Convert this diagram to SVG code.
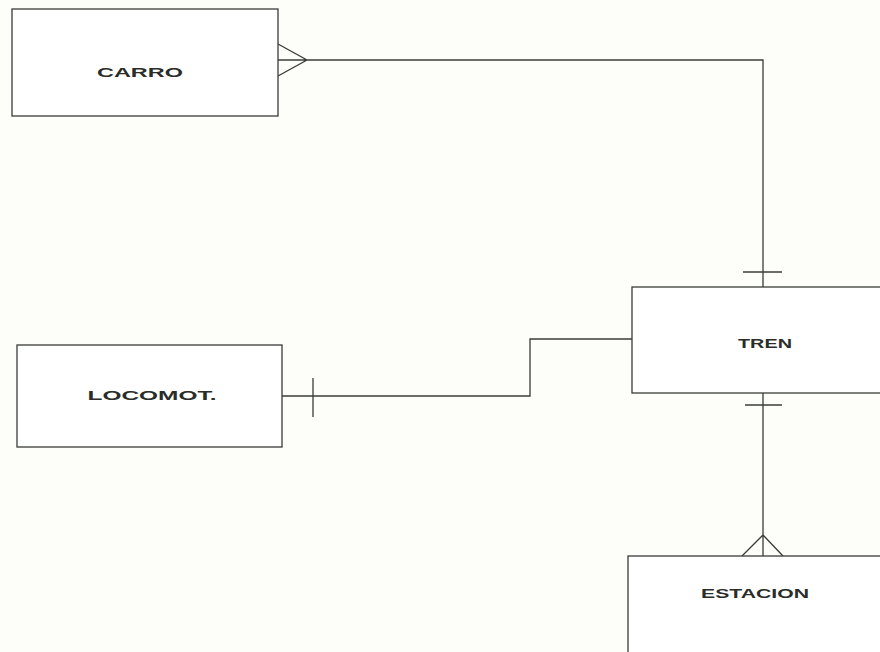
<svg xmlns="http://www.w3.org/2000/svg" width="880" height="652" viewBox="0 0 880 652">
<style>
.box{fill:#fff;stroke:#3a3d38;stroke-width:1.3}
.ln{fill:none;stroke:#3a3d38;stroke-width:1.3}
.lbl{font-family:"Liberation Sans",Arial,sans-serif;font-size:13px;fill:#2a2d28;text-anchor:middle;font-weight:bold}
</style>
<rect width="880" height="652" fill="#fdfdf9"/>
<g id="connectors">
<path class="ln" d="M278,44 L307,60 L278,76 M278,60 L763,60 L763,288"/>
<path class="ln" d="M743,272 L782,272"/>
<path class="ln" d="M282,396 L530,396 L530,339 L632,339"/>
<path class="ln" d="M313,378 L313,417"/>
<path class="ln" d="M763,393 L763,556 M742,556 L763,535 L783,556"/>
<path class="ln" d="M745,405 L782,405"/>
</g>
<g id="carro">
<rect class="box" x="12" y="9" width="266" height="107"/>
<text class="lbl" x="140" y="77" textLength="86" lengthAdjust="spacingAndGlyphs">CARRO</text>
</g>
<g id="tren">
<rect class="box" x="632" y="287" width="260" height="106"/>
<text class="lbl" x="765" y="348" font-size="11" textLength="54" lengthAdjust="spacingAndGlyphs">TREN</text>
</g>
<g id="locomot">
<rect class="box" x="17" y="345" width="265" height="102"/>
<text class="lbl" x="152" y="400" textLength="129" lengthAdjust="spacingAndGlyphs">LOCOMOT.</text>
</g>
<g id="estacion">
<rect class="box" x="628" y="556" width="260" height="110"/>
<text class="lbl" x="755" y="598" font-size="11.5" textLength="108" lengthAdjust="spacingAndGlyphs">ESTACION</text>
</g>
</svg>
